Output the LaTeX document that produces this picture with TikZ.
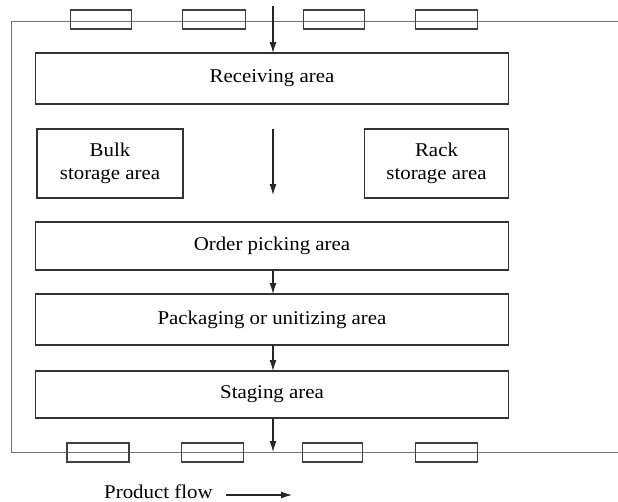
\documentclass[tikz,border=0pt]{standalone}
\usepackage{fontspec}
\usepackage{graphicx}
\setmainfont{Liberation Serif}
\usetikzlibrary{arrows.meta}
% Labels are set slightly widened, as in the printed figure
\newcommand{\widetxt}[1]{\scalebox{1.07}[1]{#1}}
\begin{document}
\begin{tikzpicture}[x=1pt,y=-1pt,
  area/.style={draw=black!80, line width=1.3pt, inner sep=0pt, outer sep=0pt,
    font=\fontsize{19.5}{23}\selectfont, align=center},
  door/.style={draw=black!75, line width=1.3pt, inner sep=0pt, outer sep=0pt,
    minimum height=19pt},
  wall/.style={draw=black!55, line width=0.9pt},
  flow/.style={draw=black!85, line width=1.2pt, -{Latex[length=11pt,width=7pt]}}]
\useasboundingbox (0,0) rectangle (618,501);

% building outline with the two dock walls
\coordinate (tr) at (618,21);
\coordinate (tl) at (11,21);
\coordinate (bl) at (11,452);
\coordinate (br) at (618,452);
\draw[wall] (tr) -- (tl) -- (bl) -- (br);

% dock doors, top wall
\node[door, minimum width=61pt] (td1) at (101,19.5) {};
\node[door, minimum width=63pt] (td2) at (214,19.5) {};
\node[door, minimum width=61pt] (td3) at (334,19.5) {};
\node[door, minimum width=62pt] (td4) at (446.5,19.5) {};
% dock doors, bottom wall
\node[door, minimum width=62pt] (bd1) at (98,452.5) {};
\node[door, minimum width=62pt] (bd2) at (212.5,452.5) {};
\node[door, minimum width=60pt] (bd3) at (332.5,452.5) {};
\node[door, minimum width=62pt] (bd4) at (446.5,452.5) {};

% functional areas
\node[area, minimum width=473pt, minimum height=51pt] (recv) at (272,78.5)
  {\widetxt{Receiving area}};
\node[area, minimum width=146pt, minimum height=69pt] (bulk) at (110,163.5)
  {\widetxt{Bulk}\\\widetxt{storage area}};
\node[area, minimum width=144pt, minimum height=69pt] (rack) at (436.5,163.5)
  {\widetxt{Rack}\\\widetxt{storage area}};
\node[area, minimum width=473pt, minimum height=48pt] (pick) at (272,246)
  {\widetxt{Order picking area}};
\node[area, minimum width=473pt, minimum height=51pt] (pack) at (272,319.5)
  {\widetxt{Packaging or unitizing area}};
\node[area, minimum width=473pt, minimum height=47pt] (stage) at (272,394.5)
  {\widetxt{Staging area}};

% product flow arrows
\coordinate (inflow) at (273,6);
\coordinate (midtop) at (273,129);
\coordinate (midbot) at (273,195);
\coordinate (outflow) at (273,452);
\draw[flow] (inflow) -- (recv.north -| inflow);
\draw[flow] (midtop) -- (midbot);
\draw[flow] (pick.south -| inflow) -- (pack.north -| inflow);
\draw[flow] (pack.south -| inflow) -- (stage.north -| inflow);
\draw[flow] (stage.south -| inflow) -- (outflow);

% legend
\node[anchor=base west, inner sep=0pt, font=\fontsize{19.5}{23}\selectfont]
  (legend) at (104,498) {\widetxt{Product flow}};
\coordinate (lga) at (226,495);
\coordinate (lgb) at (292,495);
\draw[flow] (lga) -- (lgb);
\end{tikzpicture}
\end{document}
